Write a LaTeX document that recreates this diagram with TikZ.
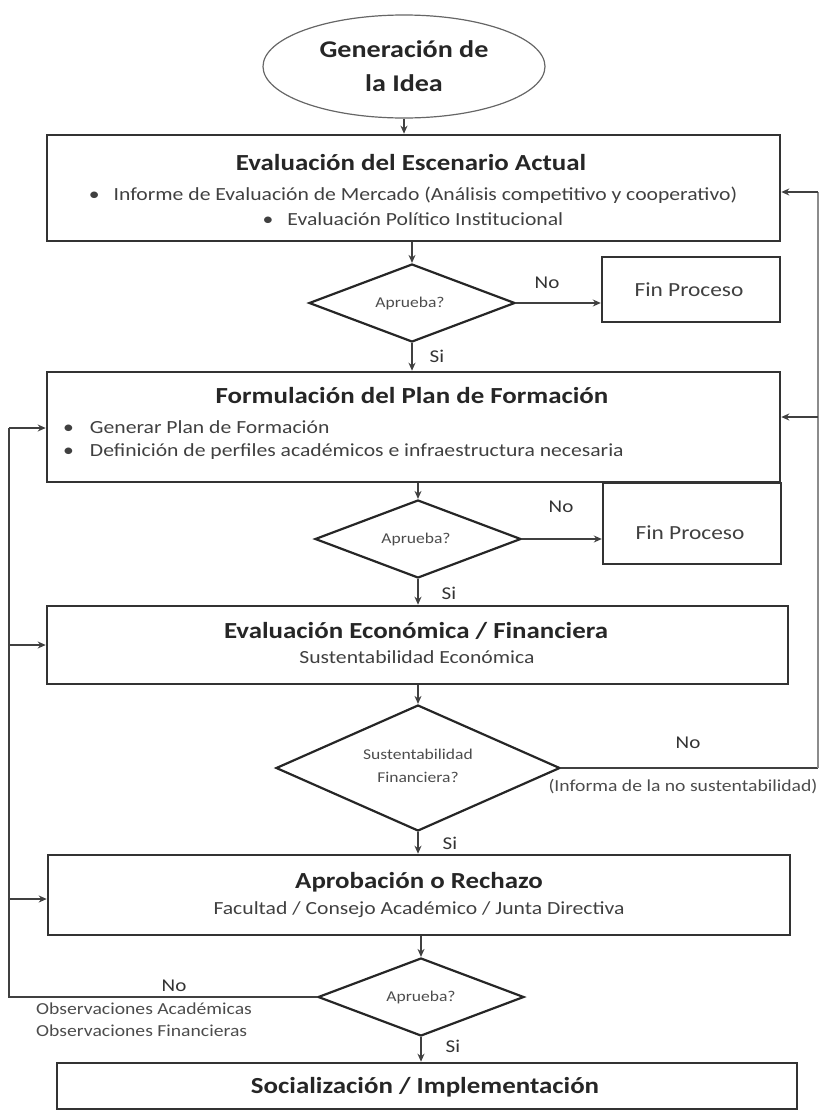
\documentclass[tikz,border=0pt]{standalone}
\usepackage{fontspec}
\setmainfont{Carlito}[FakeStretch=1.17]
\usetikzlibrary{shapes.geometric,arrows.meta}
\begin{document}
\begin{tikzpicture}[x=1pt,y=-1pt,
 box/.style={draw=black!80,line width=2.6pt,rectangle,inner sep=0pt},
 dec/.style={draw=black!85,line width=2.2pt,diamond,inner sep=0pt},
 ln/.style={draw=black!75,line width=1.3pt},
 arr/.style={ln,-{Stealth[length=8pt,width=7pt]}},
 ttl/.style={font=\fontsize{23}{26}\selectfont\bfseries,text=black!85,inner sep=0pt},
 txt/.style={font=\fontsize{18.5}{20}\selectfont,text=black!75,inner sep=0pt},
 fin/.style={font=\fontsize{20}{22}\selectfont,text=black!75,inner sep=0pt},
 sm/.style={font=\fontsize{15}{23}\selectfont,text=black!70,inner sep=0pt,align=center},
 note/.style={font=\fontsize{16.8}{22}\selectfont,text=black!70,inner sep=0pt},
 lbl/.style={font=\fontsize{18}{20}\selectfont,text=black!80,inner sep=0pt},
]
\useasboundingbox (0,0) rectangle (821,1112);

% start
\node[ellipse,draw=black!60,line width=1.2pt,minimum width=282pt,minimum height=103pt,inner sep=0pt,
      font=\fontsize{24}{34}\selectfont\bfseries,text=black!85,align=center] (gen) at (404,66.5) {Generación de\\la Idea};

% box 1
\node[box,minimum width=733pt,minimum height=106pt] (b1) at (413.5,188) {};
\node[ttl] (b1t) at (411,163) {Evaluación del Escenario Actual};
\node[txt] (b1a) at (413,195) {•\hspace{14pt}Informe de Evaluación de Mercado (Análisis competitivo y cooperativo)};
\node[txt] (b1b) at (413,219) {•\hspace{14pt}Evaluación Político Institucional};

% decision 1
\node[dec,minimum width=206pt,minimum height=78pt] (d1) at (412,303) {};
\node[sm] (d1t) at (410,303) {Aprueba?};
\node[box,line width=2.4pt,minimum width=178pt,minimum height=65pt] (f1) at (691,289.5) {};
\node[fin] (f1t) at (689,290) {Fin Proceso};

% box 2
\node[box,minimum width=733pt,minimum height=110pt] (b2) at (413.5,427) {};
\node[ttl] (b2t) at (412,396) {Formulación del Plan de Formación};
\node[txt,anchor=west] (b2a) at (63,427) {•\hspace{16pt}Generar Plan de Formación};
\node[txt,anchor=west] (b2b) at (63,452) {•\hspace{16pt}Definición de perfiles académicos e infraestructura necesaria};

% decision 2
\node[dec,minimum width=206pt,minimum height=78pt] (d2) at (418,539) {};
\node[sm] (d2t) at (416,539) {Aprueba?};
\node[box,line width=2.4pt,minimum width=178pt,minimum height=81pt] (f2) at (692,523.5) {};
\node[fin] (f2t) at (690,533) {Fin Proceso};

% box 3
\node[box,minimum width=741pt,minimum height=78pt] (b3) at (417.5,645) {};
\node[ttl] (b3t) at (416,631) {Evaluación Económica / Financiera};
\node[txt] (b3s) at (417,657) {Sustentabilidad Económica};

% decision 3
\node[dec,minimum width=284pt,minimum height=126pt] (d3) at (418,768) {};
\node[sm] (d3t) at (418,766) {Sustentabilidad\\Financiera?};

% box 4
\node[box,minimum width=742pt,minimum height=80pt] (b4) at (419,895) {};
\node[ttl] (b4t) at (419,882) {Aprobación o Rechazo};
\node[txt] (b4s) at (419,910) {Facultad / Consejo Académico / Junta Directiva};

% decision 4
\node[dec,minimum width=206pt,minimum height=78pt] (d4) at (421,997) {};
\node[sm] (d4t) at (421,997) {Aprueba?};

% box 5
\node[box,minimum width=740pt,minimum height=46pt] (b5) at (427,1086) {};
\node[ttl] (b5t) at (425,1087) {Socialización / Implementación};

% main flow
\draw[arr] (gen.south) -- (gen.south |- b1.north);
\draw[arr] (d1.north |- b1.south) -- (d1.north);
\draw[arr] (d1.east) -- (d1.east -| f1.west);
\node[lbl] (no1) at (547,283) {No};
\draw[arr] (d1.south) -- (d1.south |- b2.north);
\node[lbl] (si1) at (437,356) {Si};

\draw[arr] (d2.north |- b2.south) -- (d2.north);
\draw[arr] (d2.east) -- (d2.east -| f2.west);
\node[lbl] (no2) at (561,507) {No};
\draw[arr] (d2.south) -- (d2.south |- b3.north);
\node[lbl] (si2) at (449,593) {Si};

\draw[arr] (d3.north |- b3.south) -- (d3.north);
\draw[arr] (d3.south) -- (d3.south |- b4.north);
\node[lbl] (si3) at (450,843) {Si};

\draw[arr] (d4.north |- b4.south) -- (d4.north);
\draw[arr] (d4.south) -- (d4.south |- b5.north);
\node[lbl] (si4) at (453,1046) {Si};

% right feedback
\coordinate (rc) at (818,768);
\coordinate (r1) at (818,192);
\coordinate (r2) at (818,417);
\draw[ln] (d3.east) -- (rc);
\draw[ln,draw=black!45] (rc) -- (r1);
\draw[arr] (r1) -- (r1 -| b1.east);
\draw[arr] (r2) -- (r2 -| b2.east);
\node[lbl] (no3) at (688,743) {No};
\node[note] (inf) at (683,787) {(Informa de la no sustentabilidad)};

% left feedback
\coordinate (l0) at (9,997);
\coordinate (l1) at (9,428);
\coordinate (l2) at (9,645);
\coordinate (l3) at (9,899);
\draw[ln] (d4.west) -- (l0) -- (l1);
\draw[arr] (l1) -- (l1 -| b2.west);
\draw[arr] (l2) -- (l2 -| b3.west);
\draw[arr] (l3) -- (l3 -| b4.west);
\node[lbl] (no4) at (174,986) {No};
\node[note,anchor=west] (obs1) at (36,1009) {Observaciones Académicas};
\node[note,anchor=west] (obs2) at (36,1031) {Observaciones Financieras};
\end{tikzpicture}
\end{document}
